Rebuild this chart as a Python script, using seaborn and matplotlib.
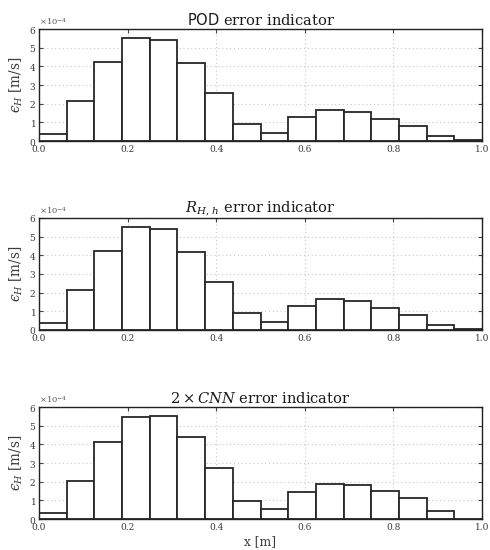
#-- error indicator histograms along x --

import numpy as np
import pandas as pd
import matplotlib.pyplot as plt
import seaborn as sns

sns.set_style("ticks")
plt.rcParams.update({'font.family'		: 'serif',
					'font.serif'		: ['DejaVu Serif'],
					'mathtext.fontset'	: 'dejavuserif',
					'xtick.direction'	: 'in',
					'ytick.direction'	: 'in',
					'xtick.top'			: True,
					'ytick.right'		: True,
					'xtick.labelsize'	: 6.5,
					'ytick.labelsize'	: 6.5,
					'xtick.labelcolor'	: '#3a3a3a',
					'ytick.labelcolor'	: '#3a3a3a',
					'axes.labelcolor'	: '#3a3a3a',
					'axes.titlecolor'	: '#1a1a1a',
					'axes.linewidth'	: 1.0,
					'axes.edgecolor'	: '#222222'})

#--data (in units of 1e-4 m/s)--
n_bins      = 16
pod_vals    = [0.35, 2.12, 4.25, 5.52, 5.40, 4.20, 2.55, 0.90, 0.45, 1.30, 1.65, 1.55, 1.20, 0.80, 0.28, 0.05]
rhh_vals    = [0.35, 2.12, 4.25, 5.52, 5.40, 4.20, 2.55, 0.90, 0.45, 1.30, 1.65, 1.55, 1.20, 0.80, 0.28, 0.05]
cnn_vals    = [0.30, 2.05, 4.12, 5.45, 5.50, 4.40, 2.72, 0.97, 0.55, 1.45, 1.90, 1.80, 1.50, 1.12, 0.42, 0.00]
titles      = [r"$\mathsf{POD}$ error indicator", r"$R_{H,\,h}$ error indicator", r"$2\times CNN$ error indicator"]
series      = [pod_vals, rhh_vals, cnn_vals]
ylab        = "$\u03f5_H$ [m/s]"

centers = (np.arange(n_bins) + 0.5)/n_bins

fig = plt.figure(figsize=(4.9, 5.5), dpi=100)
tops = [29, 218, 407]
for i, (vals, title) in enumerate(zip(series, titles)):
    ax = fig.add_axes([39/490, 1 - (tops[i] + 112)/550, 443/490, 112/550])
    df = pd.DataFrame({'x': centers, 'eps': np.array(vals)*1e-4})
    sns.histplot(data=df, x='x', weights='eps', bins=n_bins, binrange=(0, 1), ax=ax,
                 color='white', edgecolor='#262626', linewidth=1.3, alpha=1.0)
    ax.set_xlim(0, 1)
    ax.set_ylim(0, 6e-4)
    ax.set_xticks(np.linspace(0, 1, 6))
    ax.set_yticks(np.arange(0, 7)*1e-4)
    ax.ticklabel_format(style='sci', axis='y', scilimits=(0, 0), useMathText=True)
    ax.yaxis.get_offset_text().set_fontsize(6)
    ax.yaxis.get_offset_text().set_color('#555555')
    ax.grid(True, color='#c8c8c8', linestyle=(0, (1, 2.5)), linewidth=0.8)
    ax.set_axisbelow(True)
    ax.tick_params(length=3, width=0.8, pad=2, color='#444444')
    ax.tick_params(axis='x', pad=3)
    ax.set_title(title, fontsize=10.5, pad=3)
    ax.set_ylabel(ylab, fontsize=9.8, labelpad=3)
    if i == 2:
        ax.set_xlabel("x [m]", fontsize=8.8, labelpad=2)
    else:
        ax.set_xlabel("")

plt.savefig('out.png', dpi=100)
